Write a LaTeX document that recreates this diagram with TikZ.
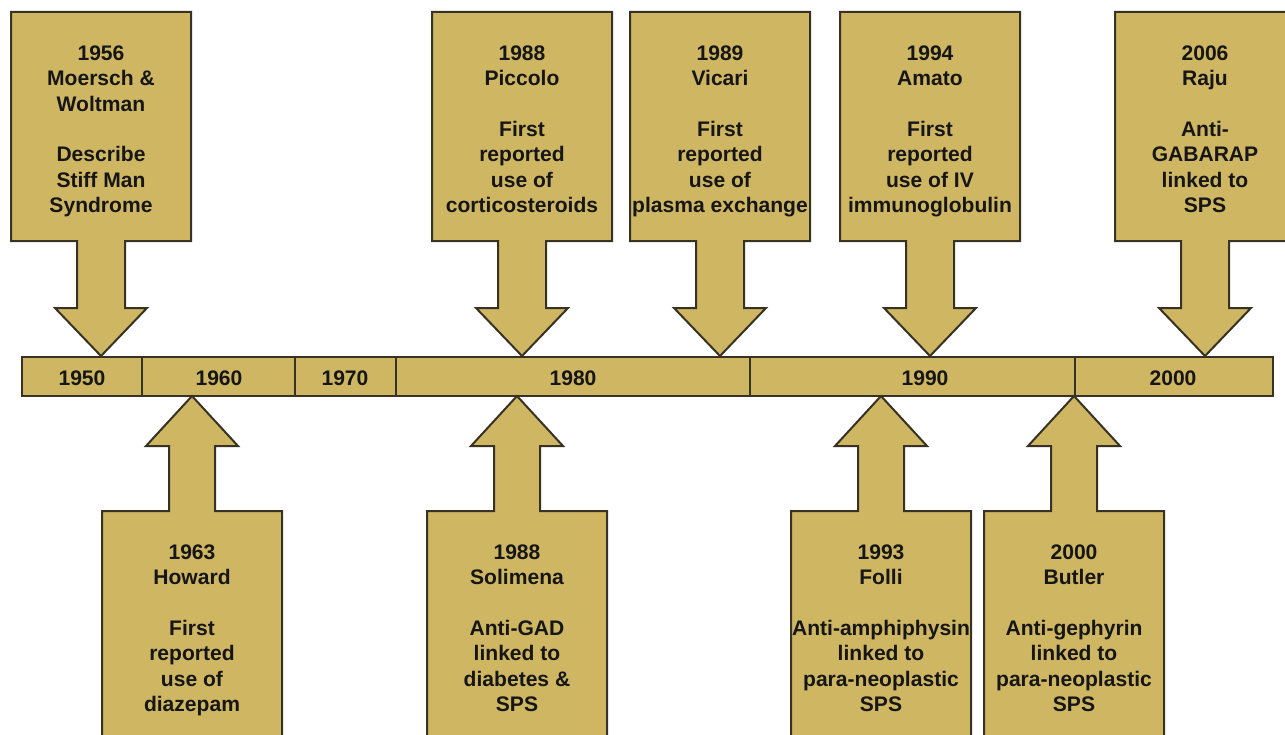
\documentclass[tikz,border=0pt]{standalone}
\usepackage{fontspec}
\setmainfont{Liberation Sans}
\definecolor{gold}{RGB}{206,182,98}
\definecolor{edge}{RGB}{55,50,35}
\definecolor{ink}{RGB}{22,22,22}
\tikzset{
  callout/.style={fill=gold,draw=edge,line width=1.5pt,line join=miter},
  divider/.style={draw=edge,line width=1.5pt},
  txt/.style={text=ink,font=\bfseries\fontsize{15.8}{19}\selectfont,align=center,inner sep=0pt},
  downcall/.pic={\draw[callout] (-90,12) -- (90,12) -- (90,241) -- (24,241) -- (24,308) -- (46,308) -- (0,356) -- (-46,308) -- (-24,308) -- (-24,241) -- (-90,241) -- cycle;},
  upcall/.pic={\draw[callout] (-90,760) -- (-90,511) -- (-23,511) -- (-23,446) -- (-46,446) -- (0,396) -- (46,446) -- (23,446) -- (23,511) -- (90,511) -- (90,760) -- cycle;}
}
\begin{document}
\begin{tikzpicture}[x=0.75pt,y=-0.75pt]
\useasboundingbox (0,0) rectangle (1285,735);
\clip (0,0) rectangle (1285,735);
\fill[white] (0,0) rectangle (1285,735);
% timeline bar
\draw[callout] (22,357) rectangle (1273,396);
\foreach \x in {142,295,396,750,1075} \draw[divider] (\x,357) -- (\x,396);
\node[txt] (y1950) at (82,378) {1950};
\node[txt] (y1960) at (219,378) {1960};
\node[txt] (y1970) at (345,378) {1970};
\node[txt] (y1980) at (573,378) {1980};
\node[txt] (y1990) at (925,378) {1990};
\node[txt] (y2000) at (1173,378) {2000};
% top callouts
\pic at (101,0) {downcall};
\pic at (522,0) {downcall};
\pic at (720,0) {downcall};
\pic at (930,0) {downcall};
\pic at (1205,0) {downcall};
\node[txt,anchor=north] (c1956) at (101,45.5) {1956\\Moersch \&\\Woltman\\~\\Describe\\Stiff Man\\Syndrome};
\node[txt,anchor=north] (c1988a) at (522,45.5) {1988\\Piccolo\\~\\First\\reported\\use of\\corticosteroids};
\node[txt,anchor=north] (c1989) at (720,45.5) {1989\\Vicari\\~\\First\\reported\\use of\\plasma exchange};
\node[txt,anchor=north] (c1994) at (930,45.5) {1994\\Amato\\~\\First\\reported\\use of IV\\immunoglobulin};
\node[txt,anchor=north] (c2006) at (1205,45.5) {2006\\Raju\\~\\Anti-\\GABARAP\\linked to\\SPS};
% bottom callouts
\pic at (192,0) {upcall};
\pic at (517,0) {upcall};
\pic at (881,0) {upcall};
\pic at (1074,0) {upcall};
\node[txt,anchor=north] (c1963) at (192,544.5) {1963\\Howard\\~\\First\\reported\\use of\\diazepam};
\node[txt,anchor=north] (c1988b) at (517,544.5) {1988\\Solimena\\~\\Anti-GAD\\linked to\\diabetes \&\\SPS};
\node[txt,anchor=north] (c1993) at (881,544.5) {1993\\Folli\\~\\Anti-amphiphysin\\linked to\\para-neoplastic\\SPS};
\node[txt,anchor=north] (c2000) at (1074,544.5) {2000\\Butler\\~\\Anti-gephyrin\\linked to\\para-neoplastic\\SPS};
\end{tikzpicture}
\end{document}
